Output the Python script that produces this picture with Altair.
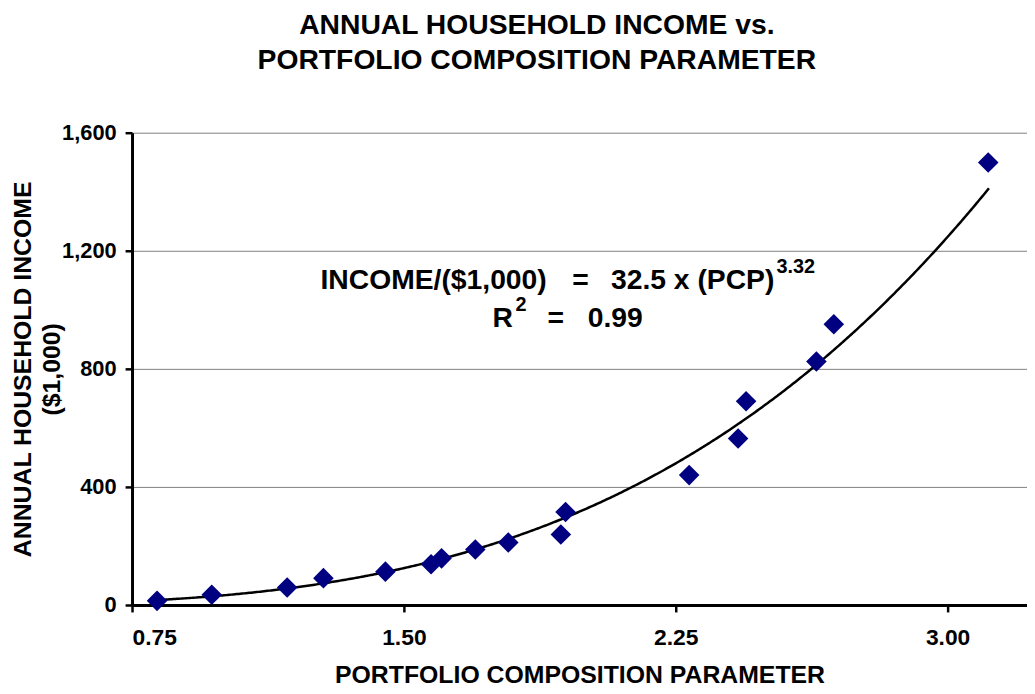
import altair as alt
import pandas as pd

# ---------------- data ----------------
PCP = [0.819, 0.970, 1.178, 1.278, 1.449, 1.575, 1.604, 1.697, 1.788,
       1.933, 1.946, 2.287, 2.422, 2.444, 2.638, 2.686, 3.112]
INCOME = [14, 35, 59, 91, 113, 138, 158, 188, 212,
          239, 315, 440, 564, 690, 825, 951, 1499]

# power trendline printed on the chart: INCOME = 32.5 x PCP^3.32
FIT_A = 32.5
FIT_B = 3.32

X_TICKS = [0.75, 1.50, 2.25, 3.00]
Y_TICKS = [0, 400, 800, 1200, 1600]
X_DOMAIN = [0.75, 3.219]
Y_DOMAIN = [0, 1600]

TITLE = ["ANNUAL HOUSEHOLD INCOME vs.", "PORTFOLIO COMPOSITION PARAMETER"]
X_TITLE = "PORTFOLIO COMPOSITION PARAMETER"
Y_TITLE = ["ANNUAL HOUSEHOLD INCOME", "($1,000)"]

# annotation pieces (text, x in PCP units, y in income units)
EQ_LEFT = ("INCOME/($1,000)", 1.270, 1072)
EQ_EQUALS = ("=", 1.987, 1072)
EQ_RIGHT = ("32.5 x (PCP)", 2.522, 1072)
EQ_EXP = ("3.32", 2.528, 1126)
R2_R = ("R", 1.801, 941)
R2_EXP = ("2", 1.808, 996)
R2_EQUALS = ("=", 1.919, 941)
R2_VALUE = ("0.99", 2.007, 941)

FONT = "Liberation Sans"
NAVY = "#000080"

points_df = pd.DataFrame({"pcp": PCP, "income": INCOME})

x_scale = alt.Scale(domain=X_DOMAIN, nice=False, zero=False)
y_scale = alt.Scale(domain=Y_DOMAIN, nice=False)

x_axis = alt.Axis(
    values=X_TICKS, format=".2f", title=X_TITLE, grid=False,
    domainColor="black", domainWidth=3, tickColor="black", tickWidth=2.5,
    tickSize=7, labelPadding=15, titlePadding=13,
    labelFontSize=23, titleFontSize=25,
)
y_axis = alt.Axis(
    values=Y_TICKS, format=",.0f", title=Y_TITLE, grid=True,
    gridColor="#808080", gridWidth=1,
    domainColor="black", domainWidth=3, tickColor="black", tickWidth=2.5,
    tickSize=7, labelPadding=9, titlePadding=-3, titleLineHeight=29,
    labelFontSize=22, titleFontSize=25,
)

points = alt.Chart(points_df).mark_point(
    shape="diamond", filled=True, color=NAVY, opacity=1, size=430
).encode(
    x=alt.X("pcp:Q", scale=x_scale, axis=x_axis),
    y=alt.Y("income:Q", scale=y_scale, axis=y_axis),
)

curve = alt.Chart(
    alt.sequence(min(PCP), max(PCP) + 0.005, 0.005, as_="pcp")
).transform_calculate(
    income=f"{FIT_A} * pow(datum.pcp, {FIT_B})"
).mark_line(color="black", strokeWidth=2.5).encode(
    x=alt.X("pcp:Q", scale=x_scale),
    y=alt.Y("income:Q", scale=y_scale),
)


def label(piece, align, size):
    text, xv, yv = piece
    df = pd.DataFrame({"t": [text], "pcp": [xv], "income": [yv]})
    return alt.Chart(df).mark_text(
        align=align, baseline="alphabetic", font=FONT, fontWeight="bold",
        fontSize=size, color="black",
    ).encode(
        x=alt.X("pcp:Q", scale=x_scale),
        y=alt.Y("income:Q", scale=y_scale),
        text="t:N",
    )


annotations = [
    label(EQ_LEFT, "left", 28.5),
    label(EQ_EQUALS, "center", 28.5),
    label(EQ_RIGHT, "right", 28.5),
    label(EQ_EXP, "left", 20),
    label(R2_R, "right", 28.5),
    label(R2_EXP, "left", 20),
    label(R2_EQUALS, "center", 28.5),
    label(R2_VALUE, "left", 28.5),
]

chart = alt.layer(curve, points, *annotations).properties(
    width=902,
    height=476,
    autosize=alt.AutoSizeParams(type="none"),
    padding={"left": 125, "top": 123, "right": 0, "bottom": 84},
    title=alt.TitleParams(
        TITLE, anchor="middle", fontSize=28.5, font=FONT, fontWeight="bold",
        color="black", lineHeight=35, offset=48, dx=-43,
    ),
).configure_view(stroke=None).configure_axis(
    labelFont=FONT, titleFont=FONT, labelFontWeight="bold",
    titleFontWeight="bold", labelColor="black", titleColor="black",
)

chart.save("out.html", embed_options={"renderer": "svg", "actions": False})
